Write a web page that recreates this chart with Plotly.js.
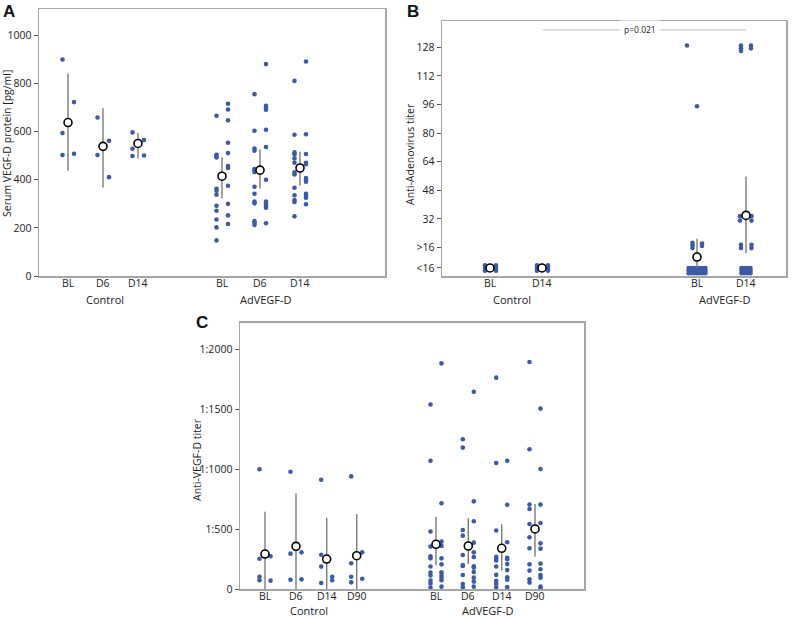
<!DOCTYPE html>
<html><head><meta charset="utf-8">
<script src="https://cdn.plot.ly/plotly-3.0.1.min.js"></script>
<style>html,body{margin:0;padding:0;background:#fff}</style>
</head><body><div id="chart" style="width:800px;height:618px"></div>
<script>
// ---------- Panel A: Serum VEGF-D protein [pg/ml] ----------
const A_ticks = ['BL','D6','D14','BL','D6','D14'];
const A_left = [[900,594,503],[659,503],[597,529,499],
  [666,504,499,493,363,354,338,292,271,235,202,148],
  [756,604,530,521,445,438,432,371,342,310,302,228,220,212],
  [811,587,514,506,489,471,431,422,367,336,316,308,248]];
const A_right = [[723,508],[562,411],[565,501],
  [716,692,647,554,511,457,449,375,300,252,216],
  [881,708,699,691,608,536,400,309,300,292,284,219],
  [892,589,507,471,465,407,399,392,342,334,325,298]];
const A_mean = [638,539,551,415,440,449];
const A_lo = [438,368,488,323,364,375];
const A_hi = [842,697,596,493,526,517];

// ---------- Panel B: Anti-Adenovirus titer ----------
const B_ticks = ['BL','D14','BL','D14'];
const B_yticks = ['<16','>16','32','48','64','80','96','112','128'];
const B_ctrlBL = [[6,4.5,3],[6,4.5,3]];
const B_ctrlD14 = [[6,4.5,3],[6,4.5,3]];
const B_adBL = [[129],[95],[18.6,17.1,15.6],[18.2,16.8],
  [4.5,3,1.5],[4.5,3,1.5],[4.5,3,1.5],[4.5,3,1.5],[4.5,3,1.5],[4.5,3,1.5],[4.5,3,1.5]];
const B_adD14 = [[128.9,127.4,125.9],[128.9,127.4],[33.5,31],[33.5,31],[17.5,15.6],[17.5,15.6],
  [4.5,3,1.5],[4.5,3,1.5],[4.5,3,1.5],[4.5,3,1.5]];
const B_mean = [4.5,4.5,10.6,33.9];
const B_lo = [4.5,4.5,4.5,12.8];
const B_hi = [4.5,4.5,20.8,55.7];

// ---------- Panel C: Anti-VEGF-D titer ----------
const C_ticks = ['BL','D6','D14','D90','BL','D6','D14','D90'];
const C_left = [[1000,255,105,75],[980,297,80],[913,288,189,52],[941,217,105,58],
  [1540,1072,482,356,275,258,190,140,115,72,48,15],
  [1250,1181,494,447,286,203,194,119,44,17],
  [1764,1053,490,270,255,240,190,120,70,45,15],
  [1894,1167,706,669,544,433,342,208,156,83,56]];
const C_right = [[275,72],[308,83],[105,75],[308,88],
  [1883,717,397,361,258,208,142,119,97,75,22],
  [1647,733,567,389,308,269,192,181,144,97,64,22],
  [1072,705,392,262,250,210,160,100,80,18],
  [1506,1003,706,553,383,339,214,167,119,97,22,8]];
const C_mean = [294,358,252,280,375,361,342,503];
const C_lo = [0,0,0,0,200,211,156,272];
const C_hi = [647,800,597,625,605,592,542,711];

// ---------- layout helpers (positions in px inside each frame) ----------
const A_pos = [29,64,99,183,221,261];
const B_pos = [48,100,255,304];
const C_pos = [25,56,86.7,116.7,196,228.3,261.7,295];
const DOT = '#3b5ba5';
const traces = [];
function addPanel(xa, ya, pos, cols, offs, mean, lo, hi){
  cols.forEach((cs,i)=>{
    cs.forEach((vals,j)=>{
      traces.push({type:'scatter',mode:'markers',xaxis:xa,yaxis:ya,
        x:vals.map(()=>pos[i]+offs[i][j]), y:vals,
        marker:{color:DOT,size:4.6}, hoverinfo:'skip', showlegend:false});
    });
  });
  traces.push({type:'scatter',mode:'markers',xaxis:xa,yaxis:ya,x:pos,y:mean,
    error_y:{type:'data',symmetric:false,array:hi.map((h,k)=>h-mean[k]),
      arrayminus:lo.map((l,k)=>mean[k]-l),color:'#7a7a7a',thickness:1.4,width:0},
    marker:{symbol:'circle',size:8,color:'#ffffff',line:{color:'#000',width:1.6}},
    hoverinfo:'skip',showlegend:false});
}
const LR = [-5.5,6];
addPanel('x','y',A_pos,A_left.map((l,i)=>[l,A_right[i]]),A_pos.map(()=>LR),A_mean,A_lo,A_hi);
const gridOff7=[-8.4,-5.6,-2.8,0,2.8,5.6,8.4], gridOff4=[-4.5,-1.5,1.5,4.5];
addPanel('x2','y2',B_pos,[B_ctrlBL,B_ctrlD14,B_adBL,B_adD14],
  [[-5,6],[-5,6],[-10,0,-4.5,5].concat(gridOff7),[-5,5,-6,5.5,-5,5.5].concat(gridOff4)],
  B_mean,B_lo,B_hi);
addPanel('x3','y3',C_pos,C_left.map((l,i)=>[l,C_right[i]]),C_pos.map(()=>[-5.5,5.5]),C_mean,C_lo,C_hi);

const W=800,H=618;
const FR='#a6a6a6';
function xax(dom,w,anchor){return {domain:[dom[0]/W,dom[1]/W],range:[0,w],showticklabels:false,
  showline:true,mirror:true,linecolor:FR,linewidth:1.5,showgrid:false,zeroline:false,ticks:'',anchor:anchor,fixedrange:true};}
function yax(top,bot,range,vals,txt,anchor){const o={domain:[1-bot/H,1-top/H],range:range,tickvals:vals,
  showline:true,mirror:true,linecolor:FR,linewidth:1.5,showgrid:false,zeroline:false,ticks:'outside',ticklen:4,
  tickcolor:'#555',tickwidth:1,anchor:anchor,tickfont:{family:'Open Sans',size:10.5,color:'#222'},fixedrange:true};
  if(txt) o.ticktext=txt; return o;}

const ann=[];
function txt(x,y,t,size,extra){ann.push(Object.assign({xref:'paper',yref:'paper',x:x/W,y:1-y/H,text:t,showarrow:false,
  xanchor:'center',yanchor:'middle',font:{family:'Open Sans',size:size,color:'#222'}},extra||{}));}
function xticks(xref,pos,labels,ypx){pos.forEach((p,i)=>ann.push({xref:xref,yref:'paper',x:p,y:1-ypx/H,text:labels[i],
  showarrow:false,xanchor:'center',yanchor:'middle',font:{family:'Open Sans',size:10.5,color:'#222'}}));}
xticks('x',A_pos,A_ticks,283);
xticks('x2',B_pos,B_ticks,283);
xticks('x3',C_pos,C_ticks,595.5);
txt(9,12,'<b>A</b>',17,{font:{family:'Liberation Sans',size:17,color:'#111'}});
txt(413,12,'<b>B</b>',17,{font:{family:'Liberation Sans',size:17,color:'#111'}});
txt(202,322,'<b>C</b>',17,{font:{family:'Liberation Sans',size:17,color:'#111'}});
txt(7,144,'Serum VEGF-D protein [pg/ml]',10.5,{textangle:-90});
txt(410,154,'Anti-Adenovirus titer',10.5,{textangle:-90});
txt(197,460,'Anti-VEGF-D titer',10.5,{textangle:-90});
txt(105,299,'Control',11); txt(266,299,'AdVEGF-D',11);
txt(512,299,'Control',11); txt(725,299,'AdVEGF-D',11);
txt(309,610,'Control',11); txt(488,610,'AdVEGF-D',11);
ann.push({xref:'x2',yref:'y2',x:198,y:137.7,text:'p=0.021',showarrow:false,bgcolor:'#fff',borderpad:3,
  font:{family:'Open Sans',size:8.5,color:'#222'}});

const layout={width:W,height:H,margin:{l:0,r:0,t:0,b:0},paper_bgcolor:'#fff',plot_bgcolor:'#fff',showlegend:false,
  xaxis:xax([39,385],346,'y'),
  yaxis:yax(9,276,[0,1110],[0,200,400,600,800,1000],null,'x'),
  xaxis2:xax([442,786],344,'y2'),
  yaxis2:yax(21,276,[0,142.7],[4.5,16,32,48,64,80,96,112,128],B_yticks,'x2'),
  xaxis3:xax([240,584],344,'y3'),
  yaxis3:yax(322.7,589.3,[0,2222],[0,500,1000,1500,2000],['0','1:500','1:1000','1:1500','1:2000'],'x3'),
  shapes:[{type:'line',xref:'x2',yref:'y2',x0:101,x1:304,y0:137.7,y1:137.7,line:{color:'#bdbdbd',width:1}}],
  annotations:ann};
Plotly.newPlot('chart',traces,layout,{staticPlot:true,displayModeBar:false});
</script></body></html>
